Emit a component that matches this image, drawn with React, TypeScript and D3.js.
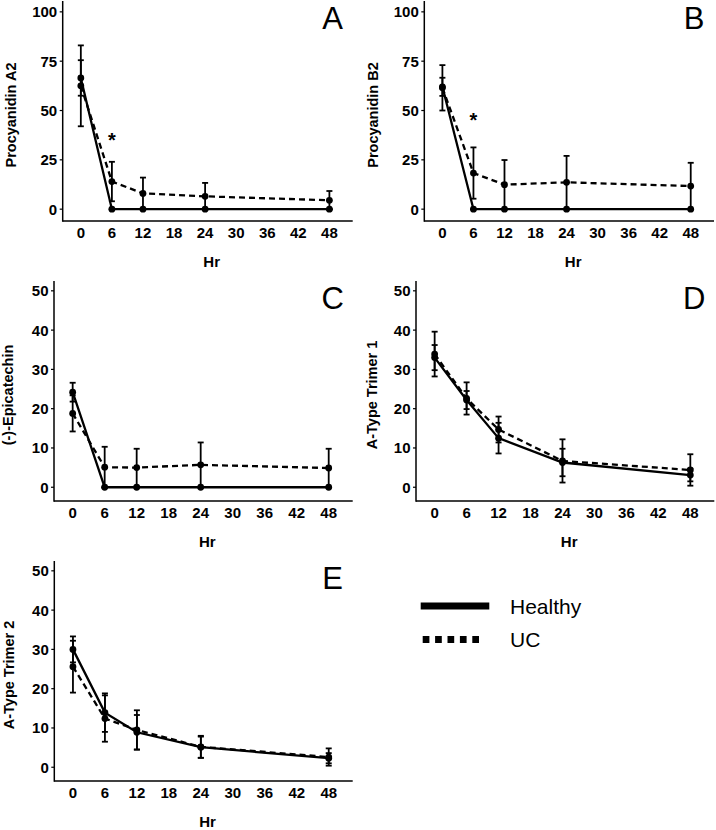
import React from 'react';
import * as d3 from 'd3';

// sampling times (hr)
const hours = [0, 6, 12, 24, 48];
const xTicks = [0, 6, 12, 18, 24, 30, 36, 42, 48];
const yTicks100 = [0, 25, 50, 75, 100];
const yTicks50 = [0, 10, 20, 30, 40, 50];

// Procyanidin A2
const a2Healthy = [66.5, 0, 0, 0, 0];
const a2HealthySd = [9, 0, 0, 0, 0];
const a2Uc = [62.5, 14, 8, 6.5, 4.5];
const a2UcSd = [20.5, 10, 8, 6.8, 4.7];

// Procyanidin B2
const b2Healthy = [62, 0, 0, 0, 0];
const b2HealthySd = [4.6, 0, 0, 0, 0];
const b2Uc = [61.5, 18.3, 12.4, 13.6, 11.7];
const b2UcSd = [11.5, 13, 12.5, 13.4, 11.8];

// (-)-Epicatechin
const epiHealthy = [24.2, 0, 0, 0, 0];
const epiHealthySd = [2.4, 0, 0, 0, 0];
const epiUc = [18.8, 5.1, 5, 5.7, 4.9];
const epiUcSd = [4.6, 5.2, 4.8, 5.7, 4.9];

// A-Type Trimer 1
const t1Healthy = [33, 22.2, 12.5, 6.3, 3.1];
const t1HealthySd = [3.2, 2.3, 3.9, 3.5, 1.6];
const t1Uc = [33.9, 22.6, 14.7, 6.7, 4.4];
const t1UcSd = [5.7, 4.1, 3.3, 5.5, 4.0];

// A-Type Trimer 2
const t2Healthy = [30, 13.9, 8.9, 5.1, 2.3];
const t2HealthySd = [3.3, 4.9, 4.4, 2.7, 1.3];
const t2Uc = [25.6, 12.4, 9.5, 5.2, 2.6];
const t2UcSd = [6.6, 5.9, 5, 2.8, 2.2];

// significance marks (hour, y value)
const starsA = [{ hr: 6, y: 37 }];
const starsB = [{ hr: 6, y: 47 }];

const FONT = '"Liberation Sans", Arial, Helvetica, sans-serif';

type Series = { values: number[]; sd: number[]; dashed: boolean };
type PanelDef = {
  letter: string;
  title: string;
  left: number;
  right: number;
  top: number;
  bottom: number;
  yDomain: [number, number];
  yTicks: number[];
  titleOffset: number;
  series: Series[];
  stars: { hr: number; y: number }[];
};

const panels: PanelDef[] = [
  {
    letter: 'A', title: 'Procyanidin A2', left: 62.7, right: 352.7, top: 1, bottom: 221,
    yDomain: [-6, 105.5], yTicks: yTicks100, titleOffset: 52,
    series: [
      { values: a2Healthy, sd: a2HealthySd, dashed: false },
      { values: a2Uc, sd: a2UcSd, dashed: true },
    ],
    stars: starsA,
  },
  {
    letter: 'B', title: 'Procyanidin B2', left: 424.3, right: 714, top: 1, bottom: 221,
    yDomain: [-6, 105.5], yTicks: yTicks100, titleOffset: 51,
    series: [
      { values: b2Healthy, sd: b2HealthySd, dashed: false },
      { values: b2Uc, sd: b2UcSd, dashed: true },
    ],
    stars: starsB,
  },
  {
    letter: 'C', title: '(-)-Epicatechin', left: 54, right: 352.7, top: 281, bottom: 501,
    yDomain: [-3.5, 52.5], yTicks: yTicks50, titleOffset: 46,
    series: [
      { values: epiHealthy, sd: epiHealthySd, dashed: false },
      { values: epiUc, sd: epiUcSd, dashed: true },
    ],
    stars: [],
  },
  {
    letter: 'D', title: 'A-Type Trimer 1', left: 416, right: 714.3, top: 281, bottom: 501,
    yDomain: [-3.5, 52.5], yTicks: yTicks50, titleOffset: 44,
    series: [
      { values: t1Healthy, sd: t1HealthySd, dashed: false },
      { values: t1Uc, sd: t1UcSd, dashed: true },
    ],
    stars: [],
  },
  {
    letter: 'E', title: 'A-Type Trimer 2', left: 54.3, right: 352.7, top: 561, bottom: 781,
    yDomain: [-3.5, 52.5], yTicks: yTicks50, titleOffset: 45,
    series: [
      { values: t2Healthy, sd: t2HealthySd, dashed: false },
      { values: t2Uc, sd: t2UcSd, dashed: true },
    ],
    stars: [],
  },
];

const Panel: React.FC<{ p: PanelDef }> = ({ p }) => {
  const x = d3.scaleLinear().domain([-3.5, 52.5]).range([p.left, p.right]);
  const y = d3.scaleLinear().domain(p.yDomain).range([p.bottom, p.top]);
  const line = d3.line<number>()
    .x((_, i) => x(hours[i]))
    .y(d => y(d));
  const cx = (p.left + p.right) / 2;
  const cy = (p.top + p.bottom) / 2 + 4;
  const titleX = p.left - p.titleOffset + 5;

  return (
    <g>
      {/* axes */}
      <line x1={p.left} x2={p.left} y1={p.top} y2={p.bottom + 0.75} stroke="#000" strokeWidth={1.5} />
      <line x1={p.left} x2={p.right} y1={p.bottom} y2={p.bottom} stroke="#000" strokeWidth={1.5} />
      {p.yTicks.map(t => (
        <g key={`y${t}`}>
          <line x1={p.left - 3} x2={p.left} y1={y(t)} y2={y(t)} stroke="#000" strokeWidth={1.2} />
          <text x={p.left - 5.5} y={y(t)} dy="0.36em" textAnchor="end"
            fontFamily={FONT} fontWeight="bold" fontSize={15} fill="#000">{t}</text>
        </g>
      ))}
      {xTicks.map(t => (
        <text key={`x${t}`} x={x(t)} y={p.bottom + 16.5} textAnchor="middle"
          fontFamily={FONT} fontWeight="bold" fontSize={15} fill="#000">{t}</text>
      ))}
      <text x={cx + 4} y={p.bottom + 46} textAnchor="middle"
        fontFamily={FONT} fontWeight="bold" fontSize={15} fill="#000">Hr</text>
      <text transform={`translate(${titleX},${cy}) rotate(-90)`} textAnchor="middle"
        fontFamily={FONT} fontWeight="bold" fontSize={14.5} fill="#000">{p.title}</text>
      <text x={p.right - 20} y={p.top + 27.5} textAnchor="middle"
        fontFamily={FONT} fontSize={31} fill="#000">{p.letter}</text>

      {/* error bars */}
      {p.series.map((s, si) => (
        <g key={`e${si}`} stroke="#000" strokeWidth={1.8}>
          {s.values.map((v, i) => {
            const xx = x(hours[i]);
            const hi = y(v + s.sd[i]);
            const lo = y(v - s.sd[i]);
            return (
              <g key={i}>
                <line x1={xx} x2={xx} y1={hi} y2={lo} />
                <line x1={xx - 3} x2={xx + 3} y1={hi} y2={hi} />
                <line x1={xx - 3} x2={xx + 3} y1={lo} y2={lo} />
              </g>
            );
          })}
        </g>
      ))}

      {/* lines */}
      {p.series.map((s, si) => (
        <path key={`l${si}`} d={line(s.values) || ''} fill="none" stroke="#000"
          strokeWidth={2.3} strokeDasharray={s.dashed ? '6,4' : undefined} />
      ))}

      {/* points */}
      {p.series.map((s, si) => (
        <g key={`p${si}`}>
          {s.values.map((v, i) => (
            <circle key={i} cx={x(hours[i])} cy={y(v)} r={3.4} fill="#000" />
          ))}
        </g>
      ))}

      {p.stars.map((st, i) => (
        <text key={`s${i}`} x={x(st.hr)} y={y(st.y)} dy="0.55em" textAnchor="middle"
          fontFamily={FONT} fontWeight="bold" fontSize={20} fill="#000">*</text>
      ))}
    </g>
  );
};

const legendItems = [
  { label: 'Healthy', dashed: false },
  { label: 'UC', dashed: true },
];

const App: React.FC = () => {
  return (
    <svg width={716} height={830} style={{ position: 'absolute', left: 0, top: 0, background: '#fff' }}>
      <rect x={0} y={0} width={716} height={830} fill="#fff" />
      {panels.map(p => <Panel key={p.letter} p={p} />)}
      {legendItems.map((item, i) => {
        const ly = 606 + i * 33.5;
        return (
          <g key={item.label}>
            <line x1={item.dashed ? 422.7 : 420.7} x2={item.dashed ? 484.5 : 489.3} y1={ly} y2={ly}
              stroke="#000" strokeWidth={7} strokeDasharray={item.dashed ? '6.7,5.7' : undefined} />
            <text x={510} y={ly + 7.5} fontFamily={FONT} fontSize={21} fill="#000">{item.label}</text>
          </g>
        );
      })}
    </svg>
  );
};

export default App;
